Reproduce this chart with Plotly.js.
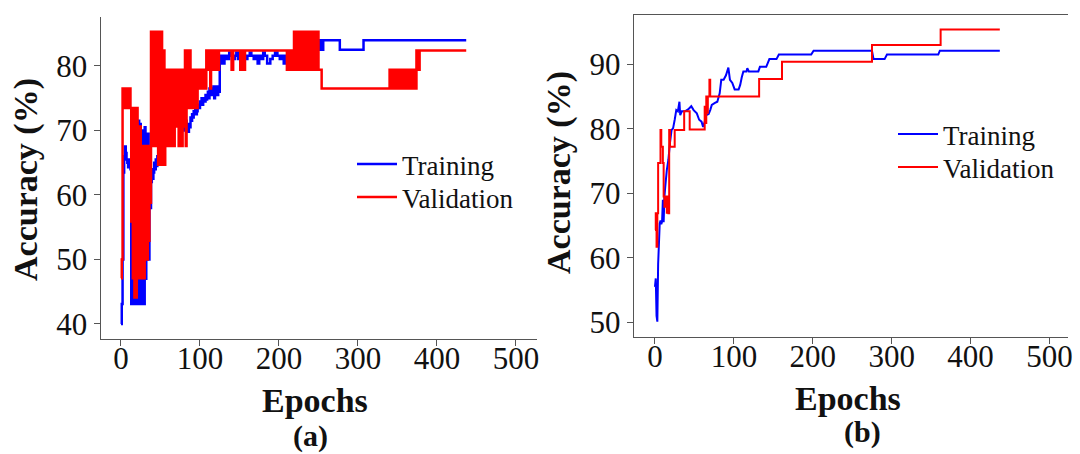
<!DOCTYPE html>
<html>
<head>
<meta charset="utf-8">
<script src="https://cdn.plot.ly/plotly-3.0.1.min.js"></script>
<style>html,body{margin:0;padding:0;background:#fff;}#chart{width:1080px;height:454px;}</style>
</head>
<body>
<div id="chart"></div>
<script>
// ---------- Panel (a) ----------
const trainA_epochs = [0,1,2,3,4,5,6,7,8,9,10,11,12,13,14,15,16,17,18,19,20,21,22,23,24,25,26,27,28,29,30,31,32,33,34,35,36,37,38,39,40,41,42,43,44,45,46,47,48,49,50,51,52,53,54,55,56,57,58,59,60,61,62,63,64,65,66,67,68,69,70,71,72,73,74,75,76,77,78,79,80,81,82,83,84,85,86,87,88,89,90,91,92,93,94,95,96,97,98,99,100,101,102,103,104,105,106,107,108,109,110,111,112,113,114,115,116,117,118,119,120,121,122,123,124,125,
  126,128,131,134,137,139,142,144,146,148,150,153,156,158,160,163,165,168,171,173,175,178,180,182,185,189,192,195,198,201,203,206,208,211,214,216,218,225,230,235,238,241,244,246,248,249,250,251,252,253,254,256,277,307,437];
const trainA_values = [40.0,43.1,50.0,63.5,66.0,67.5,66.5,65.5,65.0,64.3,
  65.5,64.8,64.0,43.1,47.0,43.1,60.0,43.1,65.0,43.1,
  68.0,43.1,71.5,43.1,71.0,45.0,70.0,43.1,69.0,43.1,
  70.5,47.0,65.5,50.0,69.5,50.0,67.0,58.0,62.0,64.0,
  62.5,63.5,65.0,64.0,65.5,64.5,66.0,65.0,66.5,65.5,
  67.0,66.0,68.0,67.0,69.0,68.0,70.0,69.0,71.0,70.0,
  72.0,71.0,72.5,71.5,73.0,72.0,73.5,72.5,73.5,72.0,
  72.5,71.0,72.0,71.5,72.5,71.0,72.0,70.5,71.5,70.0,
  71.0,70.0,71.5,70.5,70.0,69.8,71.0,70.5,72.0,71.5,
  72.5,72.0,73.0,72.5,73.5,72.5,73.0,73.5,74.0,73.5,
  74.5,74.0,75.0,74.0,74.5,75.0,74.5,75.5,74.8,75.5,
  76.0,75.0,76.5,75.5,76.0,76.5,75.5,76.8,75.0,76.5,
  76.0,76.8,75.5,76.8,76.0,80.4,
  81.6,80.4,81.6,81.1,82.1,81.6,81.1,81.6,82.1,81.1,81.6,81.1,81.6,81.1,81.6,82.1,81.6,81.1,81.6,80.4,81.6,81.1,82.1,81.6,80.4,81.1,81.6,82.1,81.6,81.1,81.6,80.4,81.6,82.1,81.6,80.4,81.6,82.1,81.1,80.4,81.6,80.4,82.1,80.4,82.5,84.0,82.5,84.0,82.5,84.0,82.5,84.0,82.5,84.0,84.0];

const valA_epochs = [0,1,2,3,4,5,6,7,8,9,10,11,12,13,14,15,16,17,18,19,20,21,22,23,24,25,26,27,28,29,30,31,32,33,34,35,36,37,38,39,40,41,42,43,44,45,46,47,48,49,50,51,52,53,54,55,56,57,58,59,60,61,62,63,64,65,66,67,68,69,70,71,72,73,74,75,76,77,78,79,80,81,82,83,84,85,86,87,88,89,90,91,92,93,94,95,96,97,98,99,100,101,102,103,104,105,106,107,108,109,110,111,112,113,114,115,116,117,118,119,120,121,122,123,124,125,
  140,142,151,153,155,157,210,211,213,214,216,217,218,
  219,220,221,222,223,224,225,226,227,228,229,230,231,232,233,234,235,236,237,238,239,240,241,242,243,244,245,246,247,248,249,
  250,254,340,341,342,343,
  344,345,346,347,348,349,350,351,352,353,354,355,356,357,358,359,360,361,362,363,364,365,366,367,368,369,370,371,372,373,
  374,375,376,377,378,437];
const valA_values = [47.1,50.0,76.5,73.5,76.5,76.5,73.5,76.5,76.5,73.5,
  76.5,76.5,73.5,55.9,73.5,47.1,73.5,44.1,70.6,44.1,
  73.5,47.1,67.6,47.1,70.6,47.1,64.7,47.1,67.6,47.1,
  64.7,50.0,67.6,50.0,61.8,52.9,67.6,58.8,85.3,67.6,
  85.3,79.4,67.6,79.4,85.3,67.6,85.3,64.7,79.4,85.3,
  64.7,85.3,64.7,79.4,82.4,64.7,79.4,67.6,79.4,67.6,
  79.4,70.6,79.4,67.6,79.4,73.5,79.4,67.6,79.4,70.6,
  79.4,73.5,79.4,67.6,79.4,70.6,79.4,67.6,79.4,70.6,
  79.4,82.4,67.6,82.4,79.4,73.5,79.4,82.4,73.5,79.4,
  76.5,79.4,73.5,79.4,76.5,79.4,73.5,79.4,76.5,79.4,
  76.5,79.4,76.5,79.4,76.5,79.4,79.4,76.5,82.4,79.4,
  82.4,79.4,82.4,76.5,82.4,79.4,82.4,79.4,82.4,79.4,
  82.4,79.4,82.4,79.4,82.4,82.4,
  79.4,82.4,79.4,82.4,79.4,82.4,79.4,82.4,79.4,82.4,79.4,82.4,79.4,
  85.3,79.4,85.3,79.4,85.3,79.4,85.3,79.4,85.3,79.4,85.3,79.4,85.3,79.4,85.3,79.4,85.3,79.4,85.3,79.4,85.3,79.4,85.3,79.4,85.3,79.4,85.3,79.4,85.3,79.4,85.3,
  79.4,76.5,79.4,76.5,79.4,76.5,
  79.4,76.5,79.4,76.5,79.4,76.5,79.4,76.5,79.4,76.5,79.4,76.5,79.4,76.5,79.4,76.5,79.4,76.5,79.4,76.5,79.4,76.5,79.4,76.5,79.4,76.5,79.4,76.5,79.4,76.5,
  82.4,79.4,82.4,79.4,82.4,82.4];

// ---------- Panel (b) ----------
const trainB_epochs = [0,1,2,3,4,6,7,8,9,10,11,12,13,15,17,19,21,23,25,27,29,31,32,34,38,42,46,49,53,56,59,61,63,65,68,70,72,76,79,82,84,87,90,93,95,98,101,106,108,110,112,116,117,119,131,133,141,145,154,157,198,201,275,277,291,294,359,361,437];
const trainB_values = [55.5,56.8,51.0,50.1,59.0,65.3,65.8,65.2,65.6,69.0,65.5,69.5,71.0,73.6,75.2,77.8,79.8,80.1,81.4,82.9,82.7,84.2,82.1,82.7,82.7,83.0,83.5,82.9,82.4,81.4,81.1,80.3,81.1,82.1,82.3,82.9,83.7,84.0,84.2,85.5,87.6,87.6,88.3,89.5,87.6,87.1,86.1,86.1,86.8,88.0,88.9,88.9,89.4,88.9,88.9,89.6,89.6,90.8,90.8,91.5,91.5,92.1,92.1,90.8,90.8,91.5,91.5,92.1,92.1];

const valB_epochs = [0,1,2,3,4,7,8,10,11,12,14,15,16,17,18,19,25,37,44,63,64,65,66,67,69,70,132,161,275,362,437];
const valB_values = [64.3,66.9,61.7,66.9,74.7,79.8,77.2,74.7,69.5,67.9,69.5,67.0,69.5,66.9,79.8,77.2,79.8,82.7,79.9,83.4,80.9,85.0,82.5,85.0,87.6,85.0,87.7,90.4,93.0,95.4,95.4];

const xTicks = [0,100,200,300,400,500];
const yTicksA = [40,50,60,70,80];
const yTicksB = [50,60,70,80,90];
const seriesNames = ['Training','Validation'];
const panelLabels = ['(a)','(b)'];

const BLUE = '#0000ff', RED = '#ff0000';
const FONT = '"Liberation Serif", "Times New Roman", Times, serif';

const traces = [
  {x: trainA_epochs, y: trainA_values, name: seriesNames[0], type:'scatter', mode:'lines',
   line:{color:BLUE, width:2.5, shape:'hv', simplify:false}, xaxis:'x', yaxis:'y', legend:'legend'},
  {x: valA_epochs, y: valA_values, name: seriesNames[1], type:'scatter', mode:'lines',
   line:{color:RED, width:2.5, shape:'hv', simplify:false}, xaxis:'x', yaxis:'y', legend:'legend2'},
  {x: trainB_epochs, y: trainB_values, name: seriesNames[0], type:'scatter', mode:'lines',
   line:{color:BLUE, width:2, simplify:false}, xaxis:'x2', yaxis:'y2', legend:'legend3'},
  {x: valB_epochs, y: valB_values, name: seriesNames[1], type:'scatter', mode:'lines',
   line:{color:RED, width:2, shape:'hv', simplify:false}, xaxis:'x2', yaxis:'y2', legend:'legend4'}
];

const axisCommon = {
  showgrid:false, zeroline:false, showline:true, linecolor:'#555', linewidth:1.5,
  ticks:'outside', ticklen:6, tickwidth:1, tickcolor:'#555',
  tickfont:{family:FONT, size:31, color:'#111'}
};

const legendCommon = {
  font:{family:FONT, size:27, color:'#111'}, bgcolor:'rgba(0,0,0,0)',
  xanchor:'left', yanchor:'top', itemwidth:40
};

const layout = {
  width:1080, height:454,
  margin:{l:0, r:0, t:0, b:0},
  paper_bgcolor:'#fff', plot_bgcolor:'#fff',
  showlegend:true,
  xaxis: Object.assign({}, axisCommon, {domain:[101/1080, 537/1080], range:[-25.3, 526.6], tickvals:xTicks, anchor:'y', ticklabelstandoff:-14}),
  yaxis: Object.assign({}, axisCommon, {domain:[(454-338.5)/454, (454-16.7)/454], range:[37.75, 87.64], tickvals:yTicksA, anchor:'x'}),
  xaxis2: Object.assign({}, axisCommon, {domain:[634.3/1080, 1068.3/1080], range:[-26.2, 523.8], tickvals:xTicks, anchor:'y2', mirror:true, ticklabelstandoff:-14}),
  yaxis2: Object.assign({}, axisCommon, {domain:[(454-336.7)/454, (454-15)/454], range:[47.77, 97.64], tickvals:yTicksB, anchor:'x2'}),
  legend:  Object.assign({}, legendCommon, {x:352/1080, y:1-140/454}),
  legend2: Object.assign({}, legendCommon, {x:352/1080, y:1-173/454}),
  legend3: Object.assign({}, legendCommon, {x:893/1080, y:1-110/454}),
  legend4: Object.assign({}, legendCommon, {x:893/1080, y:1-143/454}),
  annotations: [
    {text:'<b>Accuracy (%)</b>', xref:'paper', yref:'paper', x:26/1080, y:1-180/454, textangle:-90, showarrow:false, xanchor:'center', yanchor:'middle', font:{family:FONT, size:34, color:'#111'}},
    {text:'<b>Accuracy (%)</b>', xref:'paper', yref:'paper', x:559/1080, y:1-173/454, textangle:-90, showarrow:false, xanchor:'center', yanchor:'middle', font:{family:FONT, size:34, color:'#111'}},
    {text:'<b>Epochs</b>', xref:'paper', yref:'paper', x:315/1080, y:1-400/454, showarrow:false, xanchor:'center', yanchor:'middle', font:{family:FONT, size:34, color:'#111'}},
    {text:'<b>Epochs</b>', xref:'paper', yref:'paper', x:848/1080, y:1-398/454, showarrow:false, xanchor:'center', yanchor:'middle', font:{family:FONT, size:34, color:'#111'}},
    {text:'<b>'+panelLabels[0]+'</b>', xref:'paper', yref:'paper', x:310/1080, y:1-436/454, showarrow:false, xanchor:'center', yanchor:'middle', font:{family:FONT, size:30, color:'#111'}},
    {text:'<b>'+panelLabels[1]+'</b>', xref:'paper', yref:'paper', x:862/1080, y:1-432/454, showarrow:false, xanchor:'center', yanchor:'middle', font:{family:FONT, size:30, color:'#111'}}
  ]
};

Plotly.newPlot('chart', traces, layout, {displayModeBar:false, staticPlot:true});
</script>
</body>
</html>
